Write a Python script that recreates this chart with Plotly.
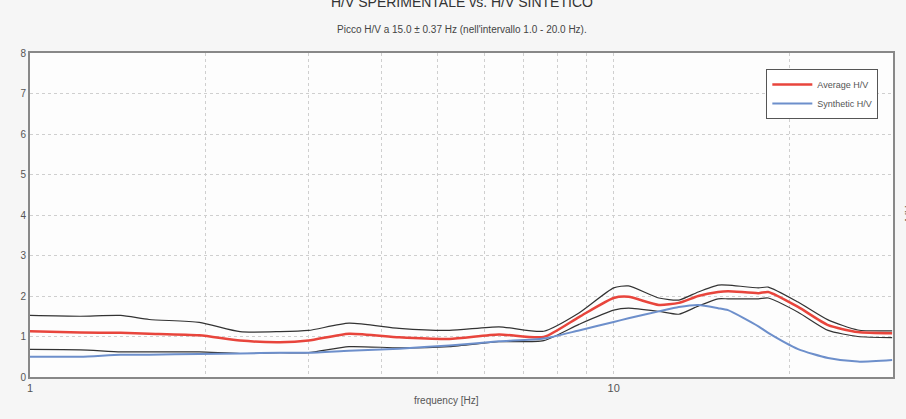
import plotly.graph_objects as go

freq = [1.0, 1.22, 1.43, 1.6, 1.95, 2.29, 2.68, 3.0, 3.52, 4.29, 5.23, 6.36, 7.59, 8.72,
        10.0, 10.6, 11.95, 12.93, 13.96, 15.1, 15.7, 17.7, 18.4, 20.7, 23.3, 26.2, 30.0]
avg_hv = [1.13, 1.1, 1.09, 1.07, 1.03, 0.9, 0.86, 0.9, 1.07, 0.98, 0.94, 1.05, 0.99, 1.48,
          1.95, 1.98, 1.78, 1.83, 2.0, 2.1, 2.12, 2.07, 2.1, 1.73, 1.28, 1.11, 1.08]
upper_hv = [1.52, 1.5, 1.52, 1.42, 1.35, 1.12, 1.12, 1.15, 1.33, 1.2, 1.15, 1.24, 1.13, 1.58,
            2.2, 2.25, 1.95, 1.9, 2.1, 2.27, 2.27, 2.2, 2.22, 1.85, 1.41, 1.16, 1.14]
lower_hv = [0.68, 0.67, 0.62, 0.62, 0.62, 0.58, 0.6, 0.6, 0.75, 0.72, 0.75, 0.87, 0.9, 1.3,
            1.65, 1.7, 1.62, 1.55, 1.75, 1.93, 1.93, 1.93, 1.95, 1.6, 1.15, 1.0, 0.97]
synth_hv = [0.5, 0.5, 0.55, 0.55, 0.57, 0.58, 0.6, 0.6, 0.65, 0.7, 0.78, 0.88, 0.95, 1.15,
            1.36, 1.45, 1.62, 1.73, 1.78, 1.7, 1.65, 1.25, 1.09, 0.69, 0.47, 0.38, 0.42]

x_tickvals = [1, 2, 3, 4, 5, 6, 7, 8, 9, 10, 20, 30]
x_ticktext = ["1", "", "", "", "", "", "", "", "", "10", "", ""]
y_tickvals = [0, 1, 2, 3, 4, 5, 6, 7, 8]

FONT = "Arial, Liberation Sans, sans-serif"

fig = go.Figure()
for ys in (upper_hv, lower_hv):
    fig.add_trace(go.Scatter(x=freq, y=ys, mode="lines", showlegend=False,
                             line=dict(color="#333333", width=1.2, shape="spline", smoothing=0.6),
                             hoverinfo="skip"))
fig.add_trace(go.Scatter(x=freq, y=avg_hv, mode="lines", name="Average H/V",
                         line=dict(color="#e8453c", width=2.5, shape="spline", smoothing=0.6)))
fig.add_trace(go.Scatter(x=freq, y=synth_hv, mode="lines", name="Synthetic H/V",
                         line=dict(color="#6d8fcb", width=2, shape="spline", smoothing=0.6)))

fig.update_layout(
    width=906, height=419,
    margin=dict(l=30, r=11, t=53, b=42),
    paper_bgcolor="#f6f6f6", plot_bgcolor="#fdfdfd",
    font=dict(family=FONT, size=10, color="#555555"),
    legend=dict(x=0.983, y=0.951, xanchor="right", yanchor="top",
                bgcolor="#ffffff", bordercolor="#555555", borderwidth=1,
                font=dict(size=9, color="#555555"), tracegroupgap=0, itemwidth=40),
    annotations=[
        dict(text="H/V SPERIMENTALE vs. H/V SINTETICO", x=0.5, y=1.157, xref="paper", yref="paper",
             showarrow=False, font=dict(size=14, color="#333333"), yanchor="middle"),
        dict(text="Picco H/V a 15.0 ± 0.37 Hz (nell'intervallo 1.0 - 20.0 Hz).", x=0.5, y=1.071,
             xref="paper", yref="paper", showarrow=False, font=dict(size=10, color="#444444"),
             yanchor="middle"),
        dict(text="frequency [Hz]", x=0.483, y=-0.071, xref="paper", yref="paper",
             showarrow=False, font=dict(size=10, color="#555555"), yanchor="middle"),
        dict(text="H/V", x=1.009, y=0.5, xref="paper", yref="paper", textangle=90,
             showarrow=False, font=dict(size=11, color="#555555"), xanchor="left"),
    ],
)
fig.update_xaxes(type="log", range=[0, 1.4786], tickvals=x_tickvals, ticktext=x_ticktext,
                 showgrid=True, gridcolor="#cfcfcf", griddash="dot", gridwidth=1,
                 showline=True, linecolor="#888888", linewidth=2, mirror=True,
                 ticks="", zeroline=False, tickfont=dict(size=11))
fig.update_yaxes(range=[0, 8], tickvals=y_tickvals, showgrid=True, gridcolor="#cfcfcf",
                 griddash="dot", gridwidth=1, showline=True, linecolor="#888888", linewidth=2,
                 mirror=True, ticks="", zeroline=False, tickfont=dict(size=10))

fig.write_html("out.html")
